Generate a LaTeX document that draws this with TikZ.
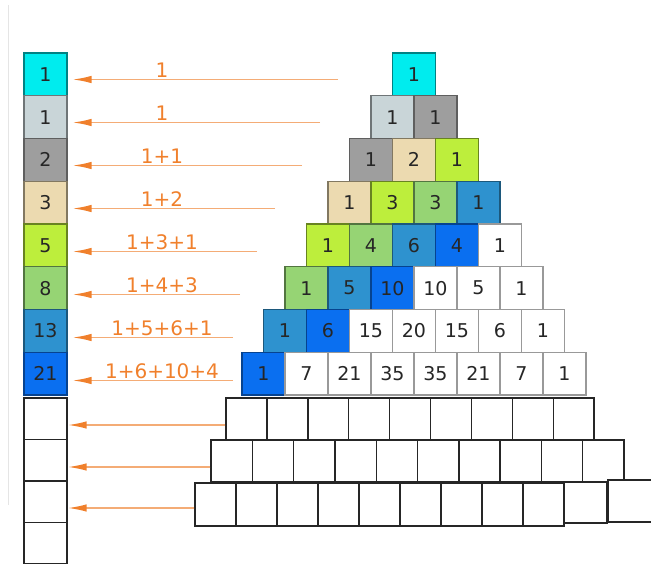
\documentclass[tikz,border=0pt]{standalone}
\usepackage{fontspec}
\setmainfont{DejaVu Sans}
\usetikzlibrary{arrows.meta,positioning,calc}

\definecolor{c0}{RGB}{0,236,238}
\definecolor{c1}{RGB}{201,213,216}
\definecolor{c2}{RGB}{158,158,158}
\definecolor{c3}{RGB}{236,218,176}
\definecolor{c4}{RGB}{189,238,60}
\definecolor{c5}{RGB}{150,212,116}
\definecolor{c6}{RGB}{46,146,207}
\definecolor{c7}{RGB}{10,111,240}
\definecolor{c8}{RGB}{255,255,255}
\colorlet{b0}{c0!55!black}
\colorlet{b1}{c1!55!black}
\colorlet{b2}{c2!60!black}
\colorlet{b3}{c3!55!black}
\colorlet{b4}{c4!55!black}
\colorlet{b5}{c5!55!black}
\colorlet{b6}{c6!60!black}
\colorlet{b7}{c7!60!black}
\colorlet{b8}{black!40}
\definecolor{lineor}{RGB}{244,172,118}
\definecolor{tipor}{RGB}{240,128,44}

\begin{document}
\begin{tikzpicture}[
  x=1pt, y=-1pt,
  cell/.style={draw, line width=1.1pt, minimum width=43pt, minimum height=42.75pt, inner sep=0pt, text=black!85, font=\fontsize{19}{19}\selectfont},
  blank/.style={draw=black!85, line width=1.4pt, fill=white, minimum width=41pt, minimum height=42pt, inner sep=0pt},
  feed/.style={-{Latex[length=19pt,width=7.5pt,color=tipor]}, line width=1.7pt, draw=lineor},
  sumtxt/.style={anchor=base, text=tipor, font=\fontsize{20}{20}\selectfont}
]
\useasboundingbox (0,0) rectangle (651,564);
\draw[black!10] (8,5) -- (8,505);

% left column
\foreach \f [count=\i from 0] in {1,1,2,3,5,8,13,21}
  \node[cell, fill=c\i, draw=b\i] (f\i) at (45.5, {74.4+\i*42.75}) {\f};
\foreach \i in {8,...,11}
  \node[blank, minimum width=43pt, minimum height=41.5pt] (f\i) at (45.5, {418.75+(\i-8)*41.5}) {};

% pyramid
\foreach \n in {0,...,7}
  \foreach \j in {0,...,\n} {
    \pgfmathtruncatemacro\k{min(\n+\j,8)}
    \pgfmathtruncatemacro\v{round(factorial(\n)/(factorial(\j)*factorial(\n-\j)))}
    \node[cell, fill=c\k, draw=b\k] (p-\n-\j) at ({414+(\j-\n/2)*43}, {74.4+\n*42.75}) {\v};
  }

% empty rows
\foreach \j in {1,...,9}
  \node[blank, minimum width=40.9pt] (a\j) at ({246.45+(\j-1)*40.9}, 419) {};
\foreach \j in {1,...,10}
  \node[blank, minimum width=41.3pt] (b\j) at ({231.65+(\j-1)*41.3}, 461) {};
\foreach \j in {1,...,9}
  \node[blank, minimum height=43pt] (c\j) at ({215.5+(\j-1)*41}, 504.5) {};
\node[blank, minimum width=43pt, minimum height=41pt] (c10) at (585.5, 502.5) {};
\node[blank, minimum width=44pt, line width=1.8pt] (c11) at (630, 501) {};

% sums
\foreach \sx/\lbl [count=\i from 0] in {338/1, 320/1, 302/1+1, 275/1+2, 257/1+3+1, 240/1+4+3, 233/1+5+6+1, 233/1+6+10+4} {
  \coordinate (s\i) at (\sx, {79.5+\i*43});
  \draw[feed, shorten >=5pt] (s\i) -- (s\i -| f\i.east);
  \node[sumtxt] (t\i) at (162, {77.5+\i*43}) {\lbl};
}
\draw[feed] ([yshift=-6pt]a1.west) -- ([yshift=-6pt]a1.west -| f8.east);
\draw[feed] ([yshift=-6pt]b1.west) -- ([yshift=-6pt]b1.west -| f9.east);
\draw[feed] ([yshift=-3.5pt]c1.west) -- ([yshift=-3.5pt]c1.west -| f10.east);

\end{tikzpicture}
\end{document}
